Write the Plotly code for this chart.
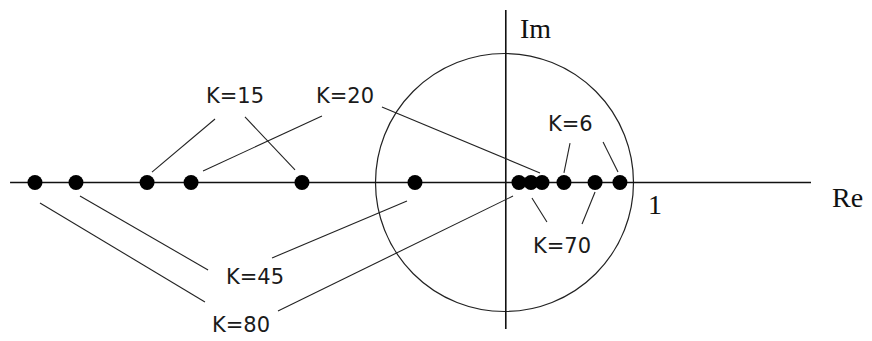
import plotly.graph_objects as go

# Pole positions on the real axis (units of the unit circle radius)
poles_re = [-3.640, -3.322, -2.771, -2.430, -1.570, -0.694,
            0.112, 0.205, 0.291, 0.461, 0.702, 0.895]
poles_im = [0.0] * len(poles_re)

# Gain labels and their positions
k_labels = ["K=15", "K=20", "K=6", "K=70", "K=45", "K=80"]
k_label_x = [-2.089, -1.236, 0.508, 0.446, -1.934, -2.043]
k_label_y = [0.671, 0.671, 0.453, -0.492, -0.733, -1.105]

# Leader lines (x0, y0, x1, y1) from labels to poles
leader_x0 = [-2.733, -2.012, -1.415, -0.950, 0.508, 0.764, 0.213, 0.702, -3.291, -1.802, -3.601, -1.756]
leader_y0 = [0.081, 0.508, 0.516, 0.585, 0.306, 0.314, -0.120, -0.074, -0.105, -0.585, -0.159, -0.996]
leader_x1 = [-2.244, -1.624, -2.337, 0.275, 0.461, 0.880, 0.329, 0.601, -2.298, -0.756, -2.322, 0.066]
leader_y1 = [0.492, 0.097, 0.089, 0.074, 0.074, 0.081, -0.306, -0.322, -0.678, -0.143, -0.926, -0.105]

# Axis labels
axis_texts = ["Im", "1", "Re"]
axis_text_x = [0.244, 1.167, 2.660]
axis_text_y = [1.190, -0.167, -0.120]

# Axis extents
re_axis = [-3.833, 2.376]
im_axis = [-1.136, 1.337]
unit_radius = 1.0

# visible window (figure is drawn inside the page's default 8px body margin)
x_range = [-3.849, 2.849]
y_range = [-1.2287, 1.3527]

fig = go.Figure()

shapes = []
# Unit circle
shapes.append(dict(type="circle", xref="x", yref="y",
                   x0=-unit_radius, x1=unit_radius, y0=-unit_radius, y1=unit_radius,
                   line=dict(color="#222222", width=1.2), layer="below"))
# Axes
shapes.append(dict(type="line", xref="x", yref="y", x0=re_axis[0], x1=re_axis[1], y0=0, y1=0,
                   line=dict(color="#111111", width=1.6), layer="below"))
shapes.append(dict(type="line", xref="x", yref="y", x0=0.01, x1=0.01, y0=im_axis[0], y1=im_axis[1],
                   line=dict(color="#111111", width=1.6), layer="below"))
# Leader lines
for a, b, c, d in zip(leader_x0, leader_y0, leader_x1, leader_y1):
    shapes.append(dict(type="line", xref="x", yref="y", x0=a, y0=b, x1=c, y1=d,
                       line=dict(color="#222222", width=1.1), layer="below"))

fig.add_trace(go.Scatter(x=poles_re, y=poles_im, mode="markers",
                         marker=dict(color="black", size=15, line=dict(width=0)),
                         hoverinfo="skip", showlegend=False))

annotations = []
for t, x, y in zip(k_labels, k_label_x, k_label_y):
    annotations.append(dict(x=x, y=y, xref="x", yref="y", text=t, showarrow=False,
                            xanchor="center", yanchor="middle",
                            font=dict(family="DejaVu Sans", size=21, color="#1a1a1a")))
for t, x, y in zip(axis_texts, axis_text_x, axis_text_y):
    annotations.append(dict(x=x, y=y, xref="x", yref="y", text=t, showarrow=False,
                            xanchor="center", yanchor="middle",
                            font=dict(family="Liberation Serif", size=28, color="#111111")))

fig.update_layout(
    width=864, height=333,
    margin=dict(l=0, r=0, t=0, b=0),
    paper_bgcolor="white", plot_bgcolor="white",
    shapes=shapes, annotations=annotations,
    xaxis=dict(range=x_range, visible=False, fixedrange=True),
    yaxis=dict(range=y_range, visible=False, fixedrange=True),
    showlegend=False,
)

fig.write_html("out.html")
